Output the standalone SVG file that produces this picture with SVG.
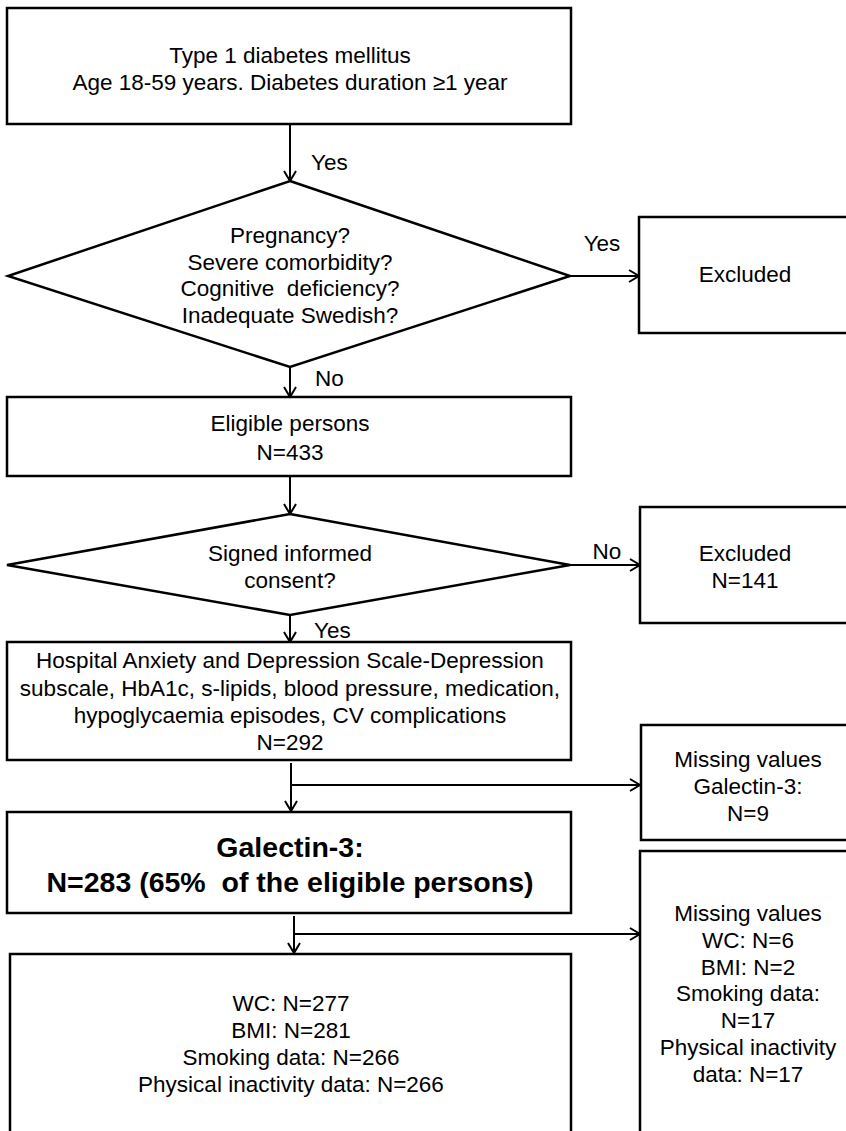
<svg xmlns="http://www.w3.org/2000/svg" width="846" height="1131" viewBox="0 0 846 1131">
  <defs>
    <marker id="arr" markerUnits="userSpaceOnUse" markerWidth="14" markerHeight="16" refX="11" refY="7" orient="auto">
      <path d="M1,1 L11,7 L1,13" fill="none" stroke="#000" stroke-width="2"/>
    </marker>
    <style>
      .box { fill: #fff; stroke: #000; stroke-width: 2.5; }
      .conn { fill: none; stroke: #000; stroke-width: 2; }
      text { font-family: "Liberation Sans", Arial, sans-serif; font-size: 22.5px; fill: #000; }
      .c { text-anchor: middle; }
      .b { font-weight: bold; font-size: 28.5px; }
    </style>
  </defs>
  <rect width="846" height="1131" fill="#fff"/>

  <g id="connectors">
    <line class="conn" x1="290" y1="124" x2="290" y2="181" marker-end="url(#arr)"/>
    <line class="conn" x1="570" y1="276" x2="639" y2="276" marker-end="url(#arr)"/>
    <line class="conn" x1="290" y1="367" x2="290" y2="397" marker-end="url(#arr)"/>
    <line class="conn" x1="290" y1="476" x2="290" y2="514" marker-end="url(#arr)"/>
    <line class="conn" x1="570" y1="565" x2="640" y2="565" marker-end="url(#arr)"/>
    <line class="conn" x1="290" y1="615" x2="290" y2="642" marker-end="url(#arr)"/>
    <line class="conn" x1="291" y1="763" x2="291" y2="811" marker-end="url(#arr)"/>
    <line class="conn" x1="291" y1="785" x2="640" y2="785" marker-end="url(#arr)"/>
    <line class="conn" x1="294" y1="916" x2="294" y2="953" marker-end="url(#arr)"/>
    <line class="conn" x1="294" y1="934" x2="640" y2="934" marker-end="url(#arr)"/>
    <text x="311" y="170">Yes</text>
    <text x="602" y="251" class="c">Yes</text>
    <text x="315" y="386">No</text>
    <text x="607" y="559" class="c">No</text>
    <text x="314" y="638">Yes</text>
  </g>

  <g id="start">
    <rect class="box" x="7" y="8" width="564" height="116"/>
    <text x="290" y="63" class="c">Type 1 diabetes mellitus</text>
    <text x="290" y="90" class="c">Age 18-59 years. Diabetes duration ≥1 year</text>
  </g>

  <g id="decision1">
    <polygon class="box" points="290,181 570,276 290,367 8,276"/>
    <text x="290" y="243" class="c">Pregnancy?</text>
    <text x="290" y="269.5" class="c">Severe comorbidity?</text>
    <text x="290" y="296" class="c">Cognitive&#160; deficiency?</text>
    <text x="290" y="322.5" class="c">Inadequate Swedish?</text>
  </g>

  <g id="excluded1">
    <rect class="box" x="639" y="217" width="214" height="116"/>
    <text x="745" y="282" class="c">Excluded</text>
  </g>

  <g id="eligible">
    <rect class="box" x="7" y="397" width="564" height="79"/>
    <text x="290" y="431" class="c">Eligible persons</text>
    <text x="290" y="460" class="c">N=433</text>
  </g>

  <g id="decision2">
    <polygon class="box" points="290,514 570,565 290,615 7,565"/>
    <text x="290" y="561" class="c">Signed informed</text>
    <text x="290" y="588" class="c">consent?</text>
  </g>

  <g id="excluded2">
    <rect class="box" x="640" y="507" width="214" height="116"/>
    <text x="745" y="561" class="c">Excluded</text>
    <text x="745" y="588" class="c">N=141</text>
  </g>

  <g id="measures">
    <rect class="box" x="7" y="642" width="564" height="118"/>
    <text x="290" y="668" class="c">Hospital Anxiety and Depression Scale-Depression</text>
    <text x="290" y="696" class="c">subscale, HbA1c, s-lipids, blood pressure, medication,</text>
    <text x="290" y="723" class="c">hypoglycaemia episodes, CV complications</text>
    <text x="290" y="750" class="c">N=292</text>
  </g>

  <g id="missing1">
    <rect class="box" x="641" y="725" width="214" height="115"/>
    <text x="748" y="767" class="c">Missing values</text>
    <text x="748" y="794" class="c">Galectin-3:</text>
    <text x="748" y="821" class="c">N=9</text>
  </g>

  <g id="galectin">
    <rect class="box" x="7" y="812" width="564" height="101"/>
    <text x="290" y="857" class="c b">Galectin-3:</text>
    <text x="290" y="892" class="c b" xml:space="preserve">N=283 (65%  of the eligible persons)</text>
  </g>

  <g id="missing2">
    <rect class="box" x="640" y="851" width="216" height="300"/>
    <text x="748" y="921" class="c">Missing values</text>
    <text x="748" y="948" class="c">WC: N=6</text>
    <text x="748" y="975" class="c">BMI: N=2</text>
    <text x="748" y="1001" class="c">Smoking data:</text>
    <text x="748" y="1028" class="c">N=17</text>
    <text x="748" y="1055" class="c">Physical inactivity</text>
    <text x="748" y="1082" class="c">data: N=17</text>
  </g>

  <g id="final">
    <rect class="box" x="10" y="954" width="561" height="200"/>
    <text x="291" y="1011" class="c">WC: N=277</text>
    <text x="291" y="1038" class="c">BMI: N=281</text>
    <text x="291" y="1065" class="c">Smoking data: N=266</text>
    <text x="291" y="1092" class="c">Physical inactivity data: N=266</text>
  </g>
</svg>
